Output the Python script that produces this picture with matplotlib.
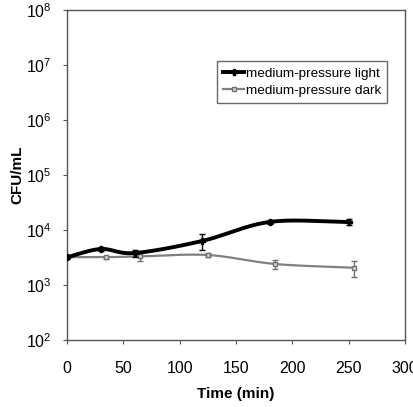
import numpy as np
import matplotlib
matplotlib.use("Agg")
import matplotlib.pyplot as plt

plt.rcParams['font.family'] = ['Liberation Sans', 'DejaVu Sans']
plt.rcParams['mathtext.fontset'] = 'custom'
plt.rcParams['mathtext.rm'] = 'Liberation Sans'

light_t = [0, 30, 60, 120, 180, 250]
light_v = [3200, 4500, 3800, 6300, 14000, 14000]
light_err = [200, 300, 600, 2000, 900, 1500]

dark_t = [0, 35, 65, 125, 185, 255]
dark_v = [3200, 3200, 3300, 3500, 2400, 2050]
dark_err = [150, 200, 600, 250, 450, 650]

labels = ["medium-pressure light", "medium-pressure dark"]
xticks = [0, 50, 100, 150, 200, 250, 300]
yticks = [1e2, 1e3, 1e4, 1e5, 1e6, 1e7, 1e8]


def smooth(t, v, n=30):
    t = np.asarray(t, float)
    y = np.log10(np.asarray(v, float))
    P = np.column_stack([t, y])
    P = np.vstack([P[0] - (P[1] - P[0]), P, P[-1] + (P[-1] - P[-2])])
    out = []
    for i in range(1, len(P) - 2):
        p0, p1, p2, p3 = P[i - 1], P[i], P[i + 1], P[i + 2]
        s = np.linspace(0, 1, n)[:, None]
        seg = 0.5 * ((2 * p1) + (-p0 + p2) * s + (2 * p0 - 5 * p1 + 4 * p2 - p3) * s ** 2
                     + (-p0 + 3 * p1 - 3 * p2 + p3) * s ** 3)
        out.append(seg)
    out = np.vstack(out)
    return out[:, 0], 10 ** out[:, 1]


fig = plt.figure(figsize=(4.14, 4.07), dpi=100)
ax = fig.add_axes([0.162, 0.165, 0.816, 0.81])

# dark series
sx, sy = smooth(dark_t, dark_v)
ax.plot(sx, sy, color='#808080', lw=1.6, zorder=2)
ax.errorbar(dark_t, dark_v, yerr=dark_err, fmt='s', color='#707070', mfc='#d8d8d8',
            mec='#707070', ms=3.5, capsize=2.5, elinewidth=1, zorder=3)
ax.plot([], [], color='#808080', lw=1.6, marker='s', mfc='#d8d8d8', mec='#707070', ms=3.5, label=labels[1])

# light series
sx, sy = smooth(light_t, light_v)
ax.plot(sx, sy, color='black', lw=2.8, zorder=4)
ax.errorbar(light_t, light_v, yerr=light_err, fmt='P', color='black', ms=4.5,
            capsize=2.5, elinewidth=1, zorder=5)
ax.plot([], [], color='black', lw=2.8, marker='P', ms=4.5, label=labels[0])

ax.set_yscale('log')
ax.set_xlim(0, 300)
ax.set_ylim(1e2, 1e8)
ax.set_xticks(xticks)
ax.set_xticklabels([str(x) for x in xticks], fontsize=11.5)
ax.set_yticks(yticks)
ax.set_yticklabels([r'$\mathregular{10^{%d}}$' % int(np.log10(y)) for y in yticks], fontsize=11.5)
ax.yaxis.set_minor_locator(matplotlib.ticker.NullLocator())
ax.tick_params(axis='x', direction='out', length=3, color='#555555', pad=12)
ax.tick_params(axis='y', direction='out', length=3, color='#555555', pad=8)
for s in ax.spines.values():
    s.set_color('#555555')
    s.set_linewidth(1.0)

ax.set_xlabel('Time (min)', fontsize=11, fontweight='bold', labelpad=8)
ax.set_ylabel('CFU/mL', fontsize=11, fontweight='bold')
ax.yaxis.set_label_coords(-0.125, 0.5)

h, l = ax.get_legend_handles_labels()
order = [l.index(labels[0]), l.index(labels[1])]
leg = ax.legend([h[i] for i in order], [l[i] for i in order], loc='upper left',
                bbox_to_anchor=(0.425, 0.865), fontsize=9.7, frameon=True, fancybox=False,
                edgecolor='#444444', handlelength=1.5, handletextpad=0.15, borderpad=0.45,
                labelspacing=0.35)
leg.get_frame().set_linewidth(1.0)

fig.savefig('out.png', dpi=100)
